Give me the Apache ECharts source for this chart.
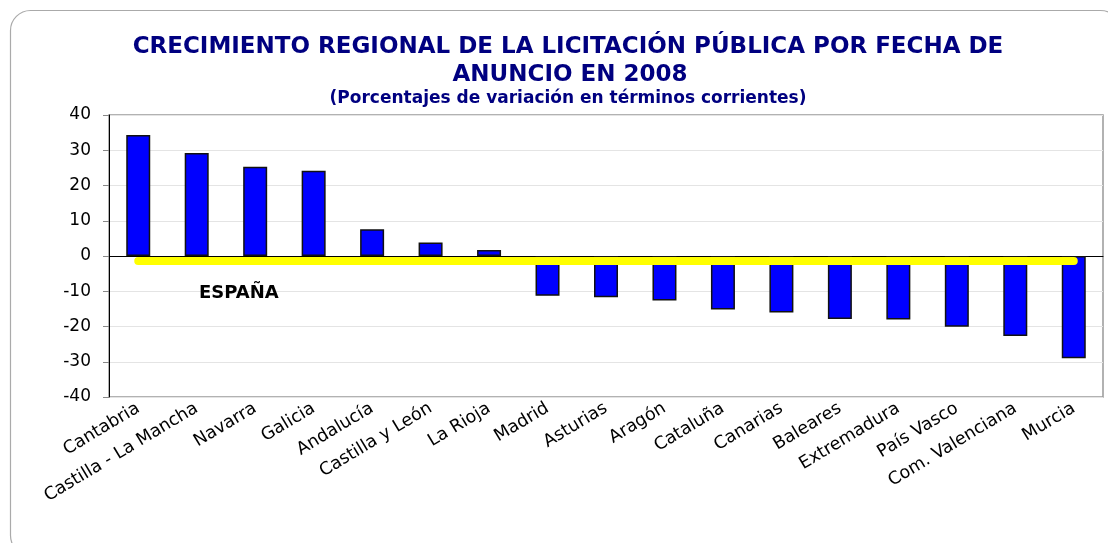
<!DOCTYPE html>
<html>
<head>
<meta charset="utf-8">
<script src="https://cdn.jsdelivr.net/npm/echarts@6/dist/echarts.min.js"></script>
<style>
  html, body { margin: 0; padding: 0; background: #fff; }
  #chart { width: 1108px; height: 543px; }
</style>
</head>
<body>
<div id="chart"></div>
<script>
// regiones, de mayor a menor crecimiento
const regiones = ['Cantabria', 'Castilla - La Mancha', 'Navarra', 'Galicia', 'Andalucía',
  'Castilla y León', 'La Rioja', 'Madrid', 'Asturias', 'Aragón', 'Cataluña', 'Canarias',
  'Baleares', 'Extremadura', 'País Vasco', 'Com. Valenciana', 'Murcia']
// porcentaje de variación
const variacion = [34.3, 29.2, 25.3, 24.2, 7.6, 3.8, 1.7, -11.3, -11.7, -12.6, -15.2,
  -16.0, -17.9, -18.0, -20.1, -22.7, -29.0]
// media nacional (línea amarilla)
const espana = [-1.4, -1.4, -1.4, -1.4, -1.4, -1.4, -1.4, -1.4, -1.4, -1.4, -1.4,
  -1.4, -1.4, -1.4, -1.4, -1.4, -1.4]
const ejeY = { min: -40, max: 40, interval: 10 }

const chart = echarts.init(document.getElementById('chart'))
const font = 'DejaVu Sans, Verdana, sans-serif'

const option = {
  animation: false,
  graphic: [
    // marco redondeado del gráfico
    {
      type: 'rect', z: 100,
      shape: { x: 10.5, y: 10.5, width: 1110, height: 545, r: 20 },
      style: { fill: 'none', stroke: '#aaa', lineWidth: 1.2 }
    },
    {
      type: 'text', x: 568, y: 36, z: 100,
      style: {
        text: 'CRECIMIENTO REGIONAL DE LA LICITACIÓN PÚBLICA POR FECHA DE',
        font: 'bold 23px ' + font, fill: '#000080', align: 'center'
      }
    },
    {
      type: 'text', x: 570, y: 64, z: 100,
      style: {
        text: 'ANUNCIO EN 2008',
        font: 'bold 23px ' + font, fill: '#000080', align: 'center'
      }
    },
    {
      type: 'text', x: 568, y: 90, z: 100,
      style: {
        text: '(Porcentajes de variación en términos corrientes)',
        font: 'bold 17px ' + font, fill: '#000080', align: 'center'
      }
    },
    {
      type: 'text', x: 199, y: 284, z: 100,
      style: { text: 'ESPAÑA', font: 'bold 18px ' + font, fill: '#000' }
    }
  ],
  grid: {
    left: 109, right: 5, top: 115, bottom: 146,
    outerBoundsMode: 'none', containLabel: false,
    show: true, borderColor: '#999', borderWidth: 1.5
  },
  xAxis: {
    type: 'category',
    data: regiones,
    axisLine: { onZero: true, lineStyle: { color: '#000', width: 1 } },
    axisTick: { inside: true, length: 7, lineStyle: { color: '#aaa' } },
    axisLabel: {
      interval: 0, rotate: 31, color: '#000', fontSize: 17.5, fontFamily: font, margin: 10
    }
  },
  yAxis: {
    type: 'value',
    min: ejeY.min, max: ejeY.max, interval: ejeY.interval,
    axisLine: { show: true, lineStyle: { color: '#000' } },
    axisTick: { show: true, length: 6, lineStyle: { color: '#888' } },
    axisLabel: { color: '#000', fontSize: 17, fontFamily: font, margin: 18 },
    splitLine: { lineStyle: { color: '#e4e4e4' } }
  },
  series: [
    {
      type: 'bar',
      data: variacion,
      barWidth: 24,
      itemStyle: { color: '#0000ff', borderColor: '#111', borderWidth: 1.5 }
    },
    {
      type: 'line',
      data: espana,
      symbol: 'none',
      lineStyle: { color: '#ffff00', width: 8, cap: 'round' },
      z: 5
    }
  ]
}
chart.setOption(option)
</script>
</body>
</html>
